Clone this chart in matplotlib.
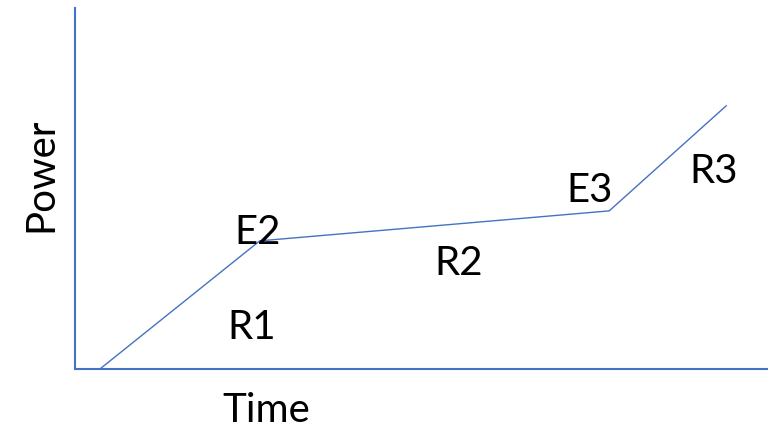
import matplotlib
matplotlib.use("Agg")
import matplotlib.pyplot as plt

time = [3.6, 26.7, 77.2, 94.1]
power = [0.0, 35.5, 43.8, 72.9]

labels = ["E2", "R1", "R2", "E3", "R3"]
label_x = [26.4, 25.6, 55.4, 74.3, 92.3]
label_y = [38.2, 11.9, 29.6, 49.6, 55.1]

blue = "#4472C4"
plt.rcParams['font.family'] = ['Lato', 'DejaVu Sans']

fig = plt.figure(figsize=(7.68, 4.31), dpi=100)
ax = fig.add_axes([75/768, (431-370)/431, (767-75)/768, (370-9)/431])
ax.plot(time, power, color=blue, lw=1.0)
ax.set_xlim(0, 100)
ax.set_ylim(0, 100)
for s in ["top", "right"]:
    ax.spines[s].set_visible(False)
for s in ["left", "bottom"]:
    ax.spines[s].set_color(blue)
    ax.spines[s].set_linewidth(1.5)
ax.set_xticks([])
ax.set_yticks([])
ax.patch.set_alpha(0)

for t, x, y in zip(labels, label_x, label_y):
    ax.text(x, y, t, fontsize=29, ha="center", va="center", color="black")

ax.text(27.6, -11.1, "Time", fontsize=29, ha="center", va="center", clip_on=False)
ax.text(-5.0, 54.0, "Power", fontsize=29, ha="center", va="center", rotation=90, clip_on=False)

fig.savefig("out.png", dpi=100)
